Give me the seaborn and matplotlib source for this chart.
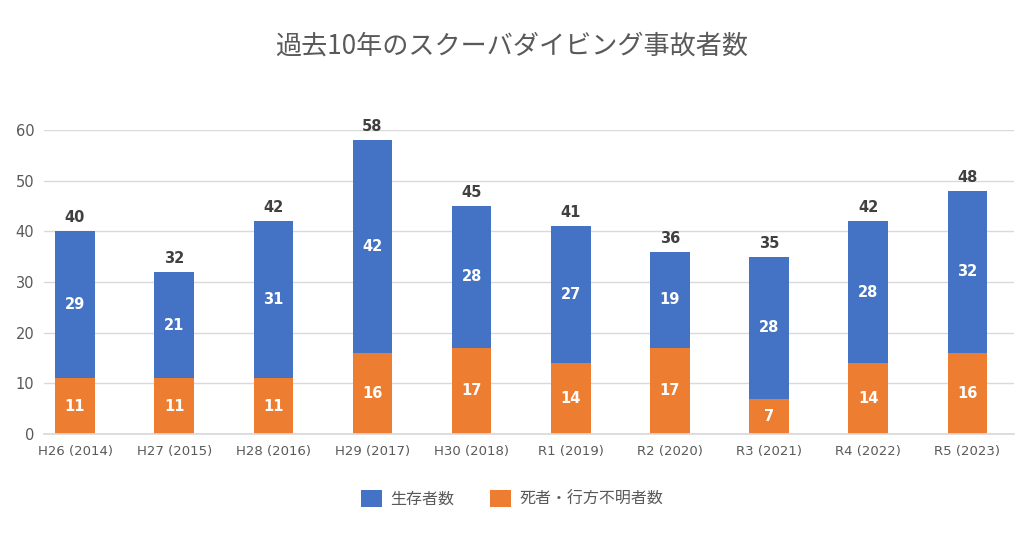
import matplotlib
matplotlib.use("Agg")
import matplotlib.pyplot as plt
import seaborn as sns
import pandas as pd
import numpy as np
from matplotlib.patches import Patch

categories = ["H26 (2014)", "H27 (2015)", "H28 (2016)", "H29 (2017)", "H30 (2018)",
              "R1 (2019)", "R2 (2020)", "R3 (2021)", "R4 (2022)", "R5 (2023)"]
survivors = [29, 21, 31, 42, 28, 27, 19, 28, 28, 32]
dead_missing = [11, 11, 11, 16, 17, 14, 17, 7, 14, 16]
title = "過去10年のスクーバダイビング事故者数"
series_names = ["生存者数", "死者・行方不明者数"]

sns.set_theme(style="white")
plt.rcParams['font.family'] = ['Noto Sans CJK JP', 'DejaVu Sans']
LAT = ['DejaVu Sans']

BLUE = "#4472C4"
ORANGE = "#ED7D31"
GRAY = "#595959"

totals = [s + d for s, d in zip(survivors, dead_missing)]
df = pd.DataFrame({"cat": categories, "dead": dead_missing, "total": totals})

fig = plt.figure(figsize=(10.24, 5.38), dpi=100)
ax = fig.add_axes([44/1024, 104/538, (1014-44)/1024, (434-130)/538])

sns.barplot(data=df, x="cat", y="total", color=BLUE, width=0.40, ax=ax,
            saturation=1, linewidth=0)
sns.barplot(data=df, x="cat", y="dead", color=ORANGE, width=0.40, ax=ax,
            saturation=1, linewidth=0)

x = np.arange(len(categories))
for i in range(len(categories)):
    d = dead_missing[i]
    s = survivors[i]
    ax.text(x[i], d / 2, str(d), ha="center", va="center", color="white",
            fontsize=10.5, fontweight="bold", family=LAT)
    ax.text(x[i], d + s / 2, str(s), ha="center", va="center", color="white",
            fontsize=10.5, fontweight="bold", family=LAT)
    ax.text(x[i], d + s + 1.2, str(d + s), ha="center", va="bottom", color="#404040",
            fontsize=10.5, fontweight="bold", family=LAT)

ax.set_xlim(-0.313, 9.47)
ax.set_ylim(0, 60)
ax.set_yticks(range(0, 61, 10))
ax.yaxis.grid(True, color="#D9D9D9", linewidth=1)
ax.set_axisbelow(True)
for sp in ["top", "right", "left"]:
    ax.spines[sp].set_visible(False)
ax.spines["bottom"].set_color("#D9D9D9")
ax.tick_params(axis="both", length=0, colors=GRAY)
ax.tick_params(axis="x", pad=8, labelsize=9.5)
ax.tick_params(axis="y", pad=7, labelsize=10.5)
for lbl in ax.get_xticklabels() + ax.get_yticklabels():
    lbl.set_family(LAT)
ax.set_xlabel("")
ax.set_ylabel("")

fig.text(0.5, 1 - 46/538, title, ha="center", va="center", fontsize=18.8, color=GRAY)

handles = [Patch(facecolor=BLUE, edgecolor="none"), Patch(facecolor=ORANGE, edgecolor="none")]
fig.legend(handles, series_names, loc="center", bbox_to_anchor=(0.5, 1 - 499/538),
           ncol=2, frameon=False, fontsize=11.5, labelcolor=GRAY,
           handlelength=1.3, handleheight=1.3, columnspacing=2.3, handletextpad=0.5)

fig.savefig("out.png", dpi=100)
